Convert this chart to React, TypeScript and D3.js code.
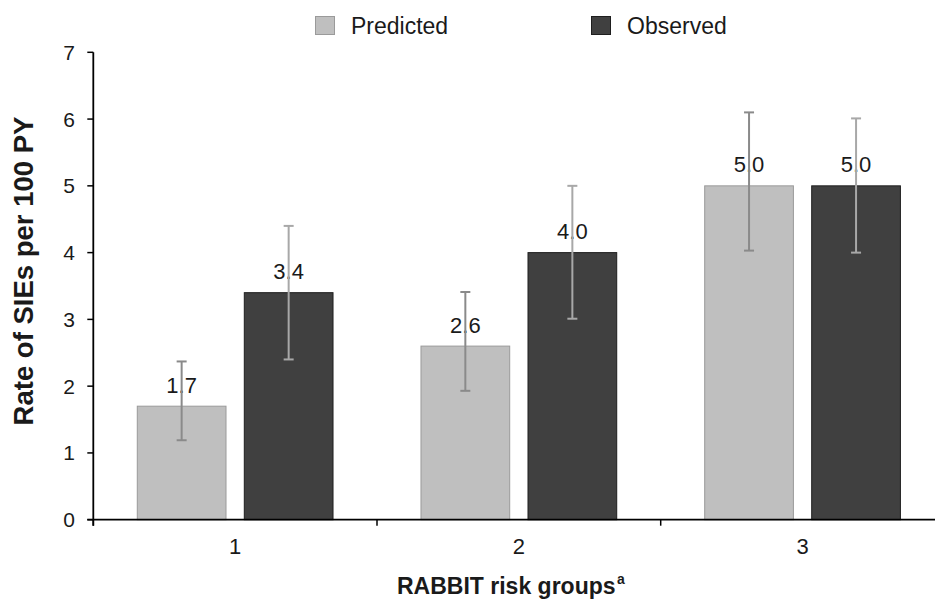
import React from "react";
import * as d3 from "d3";

const categories = ["1", "2", "3"];
const seriesNames = ["Predicted", "Observed"];
const predicted = [1.7, 2.6, 5.0];
const observed = [3.4, 4.0, 5.0];
const predictedLow = [1.19, 1.93, 4.03];
const predictedHigh = [2.37, 3.41, 6.1];
const observedLow = [2.4, 3.01, 4.0];
const observedHigh = [4.4, 5.0, 6.01];
const yTicks = [0, 1, 2, 3, 4, 5, 6, 7];

const W = 935;
const H = 599;
const FONT = "'Liberation Sans', Arial, sans-serif";

export default function App() {
  const x0 = 93.3;
  const step = 283.7;
  const x = d3.scaleBand<string>().domain(categories).range([x0, x0 + step * categories.length]).padding(0);
  const x1 = d3.scaleBand<string>().domain(seriesNames).range([0, x.bandwidth()]).paddingInner(0.171).paddingOuter(0.411);
  const y = d3.scaleLinear().domain([0, 7]).range([519.7, 52.3]);

  const series = [
    { name: "Predicted", values: predicted, low: predictedLow, high: predictedHigh, fill: "#bfbfbf", stroke: "#9a9a9a", whisker: "#8a8a8a" },
    { name: "Observed", values: observed, low: observedLow, high: observedHigh, fill: "#404040", stroke: "#1e1e1e", whisker: "#a8a8a8" },
  ];

  const bw = x1.bandwidth();

  return (
    <svg width={W} height={H} style={{ position: "absolute", left: 0, top: 0, background: "#fff" }} fontFamily={FONT}>
      {/* legend */}
      <g>
        <rect x={315.5} y={16.5} width={19} height={18} fill="#bfbfbf" stroke="#9a9a9a" />
        <text x={351} y={34} fontSize={23} fill="#1a1a1a">Predicted</text>
        <rect x={591.5} y={16.5} width={19} height={18} fill="#404040" stroke="#1e1e1e" />
        <text x={627} y={34} fontSize={23} fill="#1a1a1a">Observed</text>
      </g>

      {/* bars */}
      {series.map((s) =>
        categories.map((c, i) => {
          const bx = (x(c) as number) + (x1(s.name) as number);
          return (
            <rect key={s.name + c} x={bx} y={y(s.values[i])} width={bw} height={y(0) - y(s.values[i])} fill={s.fill} stroke={s.stroke} strokeWidth={1} />
          );
        })
      )}

      {/* value labels */}
      {series.map((s) =>
        categories.map((c, i) => {
          const cx = (x(c) as number) + (x1(s.name) as number) + bw / 2;
          return (
            <text key={"l" + s.name + c} x={cx} y={y(s.values[i]) - 13.5} textAnchor="middle" fontSize={22} fill="#1a1a1a">
              {s.values[i].toFixed(1)}
            </text>
          );
        })
      )}

      {/* error bars */}
      {series.map((s) =>
        categories.map((c, i) => {
          const cx = (x(c) as number) + (x1(s.name) as number) + bw / 2;
          return (
            <g key={"e" + s.name + c} stroke={s.whisker} strokeWidth={2}>
              <line x1={cx} x2={cx} y1={y(s.low[i])} y2={y(s.high[i])} />
              <line x1={cx - 5} x2={cx + 5} y1={y(s.low[i])} y2={y(s.low[i])} />
              <line x1={cx - 5} x2={cx + 5} y1={y(s.high[i])} y2={y(s.high[i])} />
            </g>
          );
        })
      )}

      {/* y axis */}
      <line x1={x0} x2={x0} y1={y(7)} y2={y(0) + 6} stroke="#000" strokeWidth={1.8} />
      {yTicks.map((t) => (
        <g key={"yt" + t}>
          <line x1={x0 - 6} x2={x0} y1={y(t)} y2={y(t)} stroke="#000" strokeWidth={1.5} />
          <text x={75} y={y(t) + 7.5} textAnchor="end" fontSize={21} fill="#1a1a1a">{t}</text>
        </g>
      ))}

      {/* x axis */}
      <line x1={x0 - 6} x2={W + 20} y1={y(0)} y2={y(0)} stroke="#000" strokeWidth={1.8} />
      {categories.map((c) => (
        <line key={"xt" + c} x1={x(c) as number} x2={x(c) as number} y1={y(0)} y2={y(0) + 6} stroke="#000" strokeWidth={1.5} />
      ))}
      {categories.map((c) => (
        <text key={"xl" + c} x={(x(c) as number) + x.bandwidth() / 2} y={554} textAnchor="middle" fontSize={22} fill="#1a1a1a">{c}</text>
      ))}

      {/* axis titles */}
      <text x={397} y={594} fontSize={23} fontWeight="bold" fill="#1a1a1a">
        RABBIT risk groups
      </text>
      <text x={617} y={584} fontSize={14} fontWeight="bold" fill="#1a1a1a">a</text>
      <text transform={`translate(33, 271) rotate(-90)`} textAnchor="middle" fontSize={27.5} fontWeight="bold" fill="#1a1a1a">
        Rate of SIEs per 100 PY
      </text>
    </svg>
  );
}
